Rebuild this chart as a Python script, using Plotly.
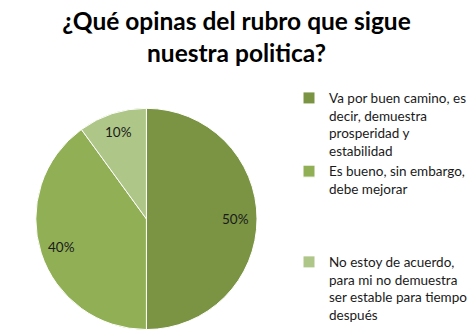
import math
import plotly.graph_objects as go

labels = [
    "Va por buen camino, es<br>decir, demuestra<br>prosperidad y<br>estabilidad",
    "Es bueno, sin embargo,<br>debe mejorar<br> <br> <br> ",
    "No estoy de acuerdo,<br>para mi no demuestra<br>ser estable para tiempo<br>después",
]
values = [50, 40, 10]
colors = ["#7A9444", "#91B056", "#AEC687"]

W, H = 473, 334
dom_x = [0.078, 0.560]
dom_y = [0.009, 0.680]

fig = go.Figure(go.Pie(
    labels=labels,
    values=values,
    sort=False,
    direction="clockwise",
    rotation=0,
    marker=dict(colors=colors, line=dict(color="white", width=1)),
    textinfo="none",
    domain=dict(x=dom_x, y=dom_y),
    hoverinfo="skip",
))

# percentage labels placed near the rim (like Excel best-fit)
cx = (dom_x[0] + dom_x[1]) / 2
cy = (dom_y[0] + dom_y[1]) / 2
r_px = min((dom_x[1] - dom_x[0]) * W, (dom_y[1] - dom_y[0]) * H) / 2
total = sum(values)
cum = 0
annotations = []
for v in values:
    mid = (cum + v / 2) / total * 2 * math.pi
    cum += v
    rl = 0.82 * r_px
    dx = math.sin(mid) * rl
    dy = math.cos(mid) * rl
    annotations.append(dict(
        x=cx + dx / W, y=cy + dy / H, xref="paper", yref="paper",
        text=f"{round(v / total * 100)}%", showarrow=False,
        font=dict(family="Lato", size=13.5, color="#1a1a1a"),
        xanchor="center", yanchor="middle",
    ))

fig.update_layout(
    width=W, height=H,
    margin=dict(l=0, r=0, t=0, b=0),
    paper_bgcolor="white",
    plot_bgcolor="white",
    title=dict(
        text="<b>¿Qué opinas del rubro que sigue<br>nuestra politica?</b>",
        x=0.5, xanchor="center", y=0.91, yanchor="top",
        font=dict(family="Lato", size=24.5, color="#000"),
    ),
    legend=dict(
        x=0.630, xanchor="left", y=0.01, yanchor="bottom",
        valign="top",
        font=dict(family="Lato", size=13.5, color="#1a1a1a"),
        itemwidth=30,
        tracegroupgap=0,
    ),
    annotations=annotations,
    showlegend=True,
)

fig.write_html("out.html")
